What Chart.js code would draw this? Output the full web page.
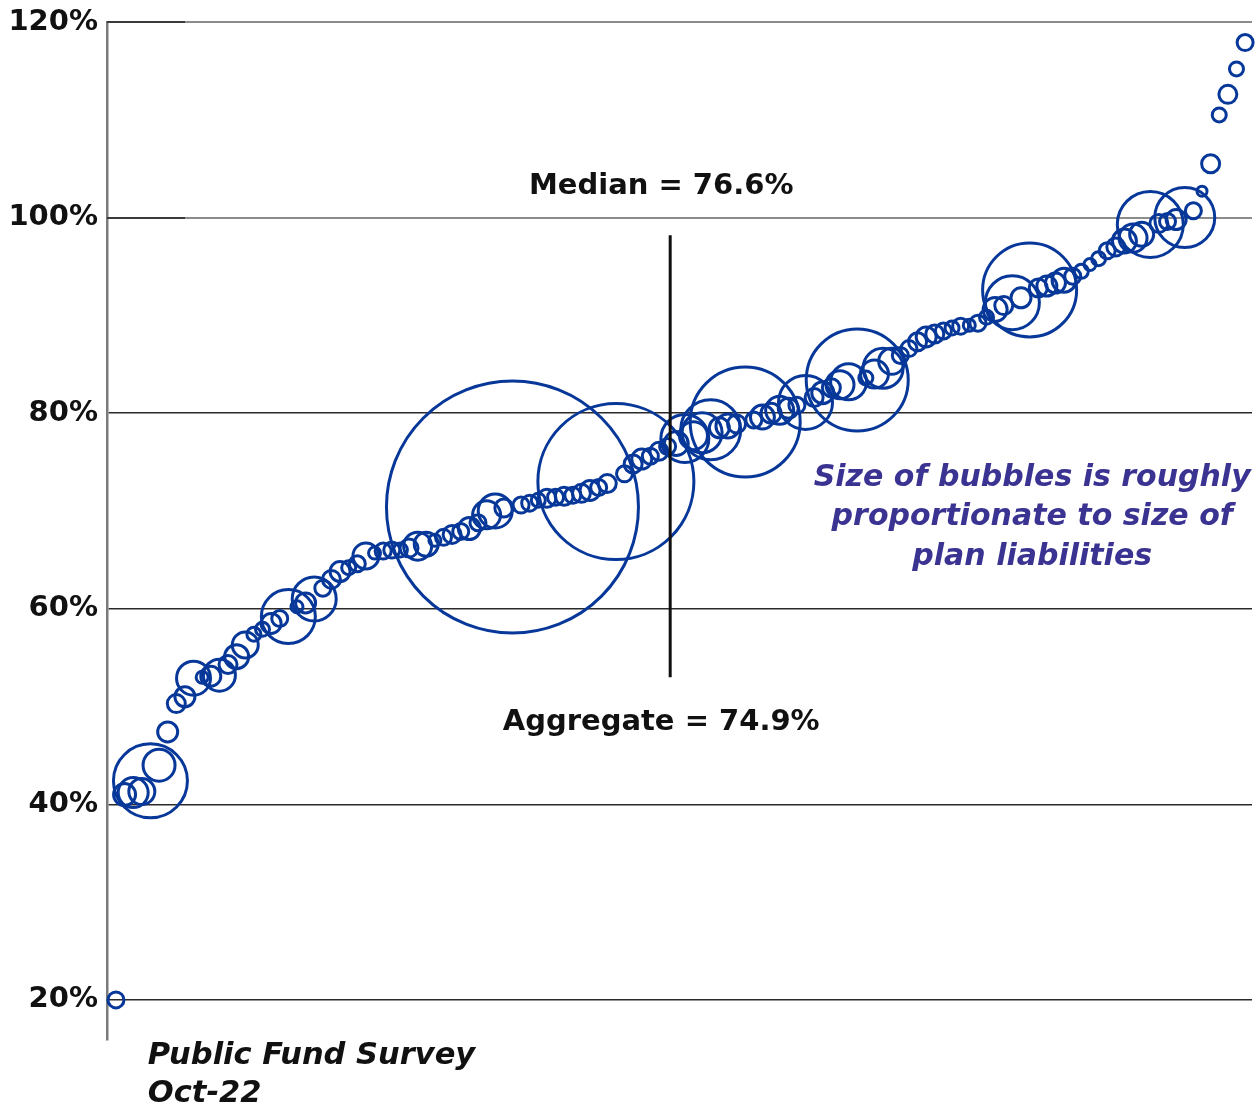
<!DOCTYPE html>
<html>
<head>
<meta charset="utf-8">
<script src="https://cdn.jsdelivr.net/npm/chart.js@4/dist/chart.umd.min.js"></script>
<style>
  html, body { margin: 0; padding: 0; background: #fff; }
  #wrap { width: 1257px; height: 1109px; position: relative; }
</style>
</head>
<body>
<div id="wrap"><canvas id="c" width="1257" height="1109"></canvas></div>
<script>
// ---- data (plans ranked by funded ratio) ----
const fundedRatio = [
  20.0, 41.0, 41.2, 41.3, 42.4, 44.0, 47.4, 50.3, 51.0, 52.9,
  53.0, 53.1, 53.2, 54.3, 55.1, 56.3, 57.4, 57.9, 58.5, 59.0,
  59.2, 60.2, 60.6, 61.0, 62.1, 63.0, 63.8, 64.2, 64.6, 65.4,
  65.7, 65.9, 66.0, 66.0, 66.2, 66.4, 66.6, 67.0, 67.3, 67.6,
  67.9, 68.2, 68.8, 69.6, 70.0, 70.3, 70.4, 70.6, 70.8, 71.1,
  71.3, 71.4, 71.5, 71.6, 71.8, 72.1, 72.4, 72.8, 73.0, 73.8,
  74.8, 75.3, 75.6, 76.1, 76.6, 76.9, 77.4, 77.7, 78.0, 78.3,
  78.5, 78.7, 78.9, 79.1, 79.3, 79.6, 80.0, 80.3, 80.5, 80.8,
  81.1, 81.6, 82.1, 82.6, 82.9, 83.2, 83.4, 83.6, 84.0, 84.6,
  85.3, 85.9, 86.6, 87.3, 87.8, 88.1, 88.4, 88.7, 88.9, 89.0,
  89.2, 89.8, 90.6, 91.0, 91.3, 91.8, 92.6, 92.8, 93.0, 93.3,
  93.6, 94.0, 94.5, 95.2, 95.8, 96.6, 97.0, 97.6, 97.9, 98.3,
  99.3, 99.4, 99.6, 99.8, 100.0, 100.7, 102.7, 105.5, 110.5, 112.6,
  115.2, 117.9
];
// relative plan liability size (bubble radius)
const liabilitySize = [
  8, 11, 15, 13, 37, 16, 10, 9, 10, 17,
  6, 10, 16, 9, 12, 13, 7, 7, 10, 8,
  27, 6, 10, 22, 8, 9, 10, 7, 8, 13,
  6, 8, 8, 7, 9, 14, 12, 6, 8, 9,
  8, 11, 8, 14, 17, 9, 126, 8, 8, 7,
  9, 8, 9, 8, 9, 10, 8, 9, 78, 8,
  9, 10, 8, 9, 8, 12, 24, 14, 20, 30,
  10, 12, 9, 55, 8, 12, 10, 14, 10, 8,
  27, 9, 11, 9, 14, 18, 51, 7, 14, 20,
  13, 8, 8, 9, 10, 9, 8, 7, 8, 6,
  8, 7, 12, 9, 27, 10, 47, 9, 10, 10,
  12, 8, 7, 6, 7, 8, 9, 12, 14, 12,
  33, 9, 8, 10, 30, 8, 5, 9, 7, 9,
  7, 8
];
const yTickValues = [20, 40, 60, 80, 100, 120];
const medianValue = 76.6;
const aggregateValue = 74.9;
const medianRank = 64.3;           // position of the median among ranked plans
const medianLineRange = [98.2, 53.0];
const noteLines = ['Size of bubbles is roughly', 'proportionate to size of', 'plan liabilities'];
const sourceLines = ['Public Fund Survey', 'Oct-22'];

// ---- build dataset ----
const bubbles = fundedRatio.map((v, i) => ({ x: i, y: v, r: liabilitySize[i] }));

const FONT = '"DejaVu Sans", "Liberation Sans", Arial, sans-serif';
const BLUE = '#073899';

const annotations = {
  id: 'annotations',
  beforeDatasetsDraw(chart) {
    const { ctx, chartArea, scales: { y } } = chart;
    ctx.save();
    ctx.strokeStyle = '#3a3a3a';
    ctx.lineWidth = 2;
    [100, 120].forEach(v => {
      const py = Math.round(y.getPixelForValue(v));
      ctx.beginPath();
      ctx.moveTo(chartArea.left, py);
      ctx.lineTo(chartArea.left + 78, py);
      ctx.stroke();
    });
    ctx.restore();
  },
  afterDatasetsDraw(chart) {
    const { ctx, scales: { x, y } } = chart;
    ctx.save();
    const px = x.getPixelForValue(medianRank);
    ctx.strokeStyle = '#111';
    ctx.lineWidth = 3;
    ctx.beginPath();
    ctx.moveTo(px, y.getPixelForValue(medianLineRange[0]));
    ctx.lineTo(px, y.getPixelForValue(medianLineRange[1]));
    ctx.stroke();

    ctx.textAlign = 'center';
    ctx.textBaseline = 'middle';
    ctx.fillStyle = '#111';
    ctx.font = 'bold 29px ' + FONT;
    ctx.fillText('Median = ' + medianValue.toFixed(1) + '%', px - 9, y.getPixelForValue(103.17));
    ctx.fillText('Aggregate = ' + aggregateValue.toFixed(1) + '%', px - 9, y.getPixelForValue(48.34));

    ctx.fillStyle = '#3b3391';
    ctx.font = 'italic bold 30px ' + FONT;
    const nx = x.getPixelForValue(106.3);
    let ny = y.getPixelForValue(73.4);
    noteLines.forEach((t, k) => ctx.fillText(t, nx, ny + k * 39.5));

    ctx.fillStyle = '#111';
    ctx.textAlign = 'left';
    ctx.font = 'italic bold 30.5px ' + FONT;
    const sx = x.getPixelForValue(3.7);
    const sy = y.getPixelForValue(14.27);
    sourceLines.forEach((t, k) => ctx.fillText(t, sx, sy + k * 38));
    ctx.restore();
  }
};

new Chart(document.getElementById('c'), {
  type: 'bubble',
  data: {
    datasets: [{
      data: bubbles,
      backgroundColor: 'rgba(0,0,0,0)',
      borderColor: BLUE,
      borderWidth: 3,
      hoverBorderWidth: 3,
      clip: false
    }]
  },
  options: {
    responsive: false,
    devicePixelRatio: 1,
    animation: false,
    events: [],
    layout: { autoPadding: false, padding: { left: 0, right: 5, top: 22, bottom: 69 } },
    plugins: { legend: { display: false }, tooltip: { enabled: false } },
    scales: {
      x: {
        type: 'linear',
        display: false,
        min: -1.04,
        max: 131.8
      },
      y: {
        type: 'linear',
        min: 15.9,
        max: 120,
        afterBuildTicks: s => { s.ticks = yTickValues.map(v => ({ value: v })); },
        afterFit: s => { s.width = 107; s.paddingTop = 0; s.paddingBottom = 0; },
        ticks: {
          callback: v => v + '%',
          color: '#111',
          font: { family: FONT, size: 29, weight: 'bold', lineHeight: 1 },
          padding: 9
        },
        grid: {
          drawTicks: false,
          color: c => (c.tick && c.tick.value >= 100) ? '#8c8c8c' : '#2a2a2a',
          lineWidth: c => (c.tick && c.tick.value >= 100) ? 2 : 1.6
        },
        border: { display: true, color: '#7a7a7a', width: 2.5 }
      }
    }
  },
  plugins: [annotations]
});
</script>
</body>
</html>
